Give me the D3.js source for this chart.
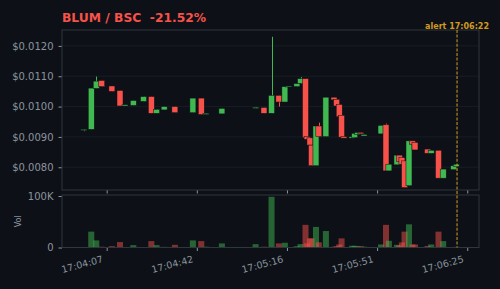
<!doctype html>
<html>
<head>
<meta charset="utf-8">
<title>BLUM / BSC</title>
<style>
body { margin:0; background:#0d1117; }
svg { display:block; }
text { font-family:"DejaVu Sans", sans-serif; }
</style>
</head>
<body>
<svg width="500" height="289" id="chart"></svg>
<script src="https://d3js.org/d3.v7.min.js"></script>
<script>
// trade candles, time = seconds after 17:04:00
var times  = [-1.3, 1.6, 3.5, 5.6, 9.5, 12.6, 14.5, 17.7, 21.6, 24.6, 26.6, 29.5, 33.6, 40.5, 43.7, 45.5, 51.6, 64.5, 67.7, 70.6, 73.4, 75.7, 77.1, 80.3, 81.7, 83.6, 84.2, 85.3, 85.9, 87.6, 88.7, 91.4, 94.5, 95.5, 96.5, 97.4, 98.3, 101.4, 102.4, 103.5, 104.8, 106.0, 112.5, 114.4, 115.5, 118.6, 119.5, 120.5, 121.5, 123.2, 124.5, 125.5, 130.3, 131.7, 134.5, 136.3, 140.3, 141.3];
var opens  = [0.00922, 0.00925, 0.01060, 0.01086, 0.01068, 0.01053, 0.01002, 0.01004, 0.01017, 0.01033, 0.00978, 0.00989, 0.01000, 0.00980, 0.01028, 0.00974, 0.00976, 0.00994, 0.00997, 0.00978, 0.01037, 0.01015, 0.01066, 0.01066, 0.01076, 0.01092, 0.00901, 0.00897, 0.00873, 0.00805, 0.00936, 0.00901, 0.01031, 0.01024, 0.01007, 0.00971, 0.00901, 0.00896, 0.00898, 0.00908, 0.00915, 0.00903, 0.00910, 0.00940, 0.00788, 0.00808, 0.00840, 0.00832, 0.00821, 0.00739, 0.00887, 0.00882, 0.00860, 0.00846, 0.00856, 0.00764, 0.00792, 0.00803];
var closes = [0.00925, 0.01061, 0.01084, 0.01066, 0.01050, 0.01002, 0.01006, 0.01020, 0.01033, 0.00978, 0.00991, 0.01000, 0.00980, 0.01028, 0.00974, 0.00978, 0.00994, 0.00998, 0.00978, 0.01037, 0.01015, 0.01066, 0.01068, 0.01076, 0.01092, 0.00897, 0.00892, 0.00873, 0.00805, 0.00936, 0.00901, 0.01031, 0.01022, 0.01002, 0.00967, 0.00899, 0.00896, 0.00901, 0.00912, 0.00915, 0.00910, 0.00908, 0.00938, 0.00788, 0.00810, 0.00840, 0.00819, 0.00810, 0.00733, 0.00887, 0.00876, 0.00857, 0.00846, 0.00856, 0.00764, 0.00794, 0.00805, 0.00810];
var highs  = [0.00925, 0.01061, 0.01099, 0.01086, 0.01068, 0.01053, 0.01006, 0.01020, 0.01033, 0.01033, 0.00991, 0.01000, 0.01000, 0.01028, 0.01028, 0.00978, 0.00994, 0.00998, 0.00997, 0.01230, 0.01037, 0.01066, 0.01068, 0.01076, 0.01097, 0.01092, 0.00901, 0.00897, 0.00873, 0.00936, 0.00947, 0.01031, 0.01031, 0.01024, 0.01007, 0.00971, 0.00901, 0.00901, 0.00912, 0.00915, 0.00915, 0.00908, 0.00938, 0.00944, 0.00810, 0.00840, 0.00840, 0.00832, 0.00821, 0.00887, 0.00887, 0.00882, 0.00860, 0.00856, 0.00856, 0.00794, 0.00805, 0.00810];
var lows   = [0.00919, 0.00925, 0.01060, 0.01066, 0.01050, 0.01002, 0.01002, 0.01004, 0.01017, 0.00978, 0.00978, 0.00989, 0.00980, 0.00980, 0.00974, 0.00974, 0.00976, 0.00994, 0.00978, 0.00978, 0.01000, 0.01015, 0.01066, 0.01066, 0.01076, 0.00897, 0.00892, 0.00873, 0.00805, 0.00805, 0.00901, 0.00901, 0.01022, 0.01002, 0.00967, 0.00899, 0.00896, 0.00896, 0.00898, 0.00908, 0.00910, 0.00903, 0.00910, 0.00788, 0.00788, 0.00808, 0.00819, 0.00810, 0.00733, 0.00739, 0.00876, 0.00857, 0.00846, 0.00846, 0.00764, 0.00764, 0.00792, 0.00803];
var volumes = [1000, 30800, 13800, 1500, 2600, 10500, 800, 4600, 1000, 12400, 4600, 1200, 5200, 13800, 12400, 1500, 7900, 6500, 1500, 98500, 7900, 9200, 1000, 2500, 6500, 44000, 8000, 17700, 17700, 40000, 10000, 32000, 1500, 2600, 5900, 17700, 1000, 3300, 3300, 2600, 2600, 1500, 5900, 44000, 13000, 5200, 4000, 9800, 30800, 45000, 5900, 5900, 3000, 5900, 30800, 12400, 1000, 1200];

var priceTicks = [0.0080, 0.0090, 0.0100, 0.0110, 0.0120];
var volTicks = [0, 100000];
var volLabels = ["0", "100K"];
var timeTicks = [7.5, 42, 76.5, 111, 145.5];
var timeLabels = ["17:04:07", "17:04:42", "17:05:16", "17:05:51", "17:06:25"];
var alertTime = 141.6;
var alertLabel = "alert 17:06:22";
var titleText = "BLUM / BSC  -21.52%";

var GREEN = "#3fb950", RED = "#f85149", GRID = "#1b2028", FRAME = "#30363d",
    TXT = "#8b949e", ALERT = "#d29922";

var svg = d3.select("#chart");
var left = 62, right = 479;
var mainTop = 30, mainBot = 190, volTop = 195, volBot = 247.5;
var candleW = 2.3; // seconds

var candles = times.map(function(t, i) {
  return {t: t, o: opens[i], c: closes[i], h: highs[i], l: lows[i], v: volumes[i]};
});

var x = d3.scaleLinear().domain([-9.6, 150]).range([left, right]);
var y = d3.scaleLinear().domain([0.00725, 0.012525]).range([mainBot, mainTop]);
var yv = d3.scaleLinear().domain([0, 102000]).range([volBot, volTop]);

// title
svg.append("text")
  .attr("x", 62).attr("y", 22)
  .attr("fill", RED)
  .style("font-size", "12.3px").style("font-weight", "bold")
  .style("white-space", "pre")
  .text(titleText);

// grid
svg.append("g").selectAll("line").data(priceTicks).enter().append("line")
  .attr("x1", left).attr("x2", right)
  .attr("y1", function(d) { return y(d); }).attr("y2", function(d) { return y(d); })
  .attr("stroke", GRID).attr("stroke-width", 0.8);

function styleAxis(g) {
  g.select(".domain").remove();
  g.selectAll(".tick line").attr("stroke", TXT);
  g.selectAll(".tick text").attr("fill", TXT).style("font-size", "10px")
    .style("font-family", "DejaVu Sans, sans-serif");
}

// y axes
svg.append("g").attr("transform", "translate(" + left + ",0)")
  .call(d3.axisLeft(y).tickValues(priceTicks).tickSize(3.5).tickPadding(5)
    .tickFormat(function(d) { return "$" + d3.format(".4f")(d); }))
  .call(styleAxis);

svg.append("g").attr("transform", "translate(" + left + ",0)")
  .call(d3.axisLeft(yv).tickValues(volTicks).tickSize(3.5).tickPadding(5)
    .tickFormat(function(d, i) { return volLabels[i]; }))
  .call(styleAxis);

// x ticks on main panel (no labels)
svg.append("g").attr("transform", "translate(0," + mainBot + ")")
  .call(d3.axisBottom(x).tickValues(timeTicks).tickSize(3.5).tickFormat(""))
  .call(styleAxis);

// x axis on volume panel
var xa = svg.append("g").attr("transform", "translate(0," + volBot + ")")
  .call(d3.axisBottom(x).tickValues(timeTicks).tickSize(3.5)
    .tickFormat(function(d, i) { return timeLabels[i]; }))
  .call(styleAxis);
xa.selectAll(".tick text")
  .attr("y", 0).attr("dy", 0)
  .style("text-anchor", "end")
  .style("font-size", "9.5px")
  .attr("transform", "translate(-3.5,14.5) rotate(-15)");

// Vol label
svg.append("text")
  .attr("transform", "translate(21," + ((volTop + volBot) / 2) + ") rotate(-90)")
  .attr("text-anchor", "middle")
  .attr("fill", TXT).style("font-size", "8px")
  .text("Vol");

// volume bars
svg.append("g").selectAll("rect").data(candles).enter().append("rect")
  .attr("x", function(d) { return x(d.t - candleW / 2); })
  .attr("width", function(d) { return x(d.t + candleW / 2) - x(d.t - candleW / 2); })
  .attr("y", function(d) { return yv(d.v); })
  .attr("height", function(d) { return yv(0) - yv(d.v); })
  .attr("fill", function(d) { return d.c >= d.o ? GREEN : RED; })
  .attr("fill-opacity", 0.5);

// candles
var cg = svg.append("g").selectAll("g").data(candles).enter().append("g");
cg.append("line")
  .attr("x1", function(d) { return Math.round(x(d.t)) + 0.5; })
  .attr("x2", function(d) { return Math.round(x(d.t)) + 0.5; })
  .attr("y1", function(d) { return y(d.h); }).attr("y2", function(d) { return y(d.l); })
  .attr("stroke", function(d) { return d.c >= d.o ? GREEN : RED; })
  .attr("stroke-width", 1);
cg.append("rect")
  .attr("x", function(d) { return x(d.t - candleW / 2); })
  .attr("width", function(d) { return x(d.t + candleW / 2) - x(d.t - candleW / 2); })
  .attr("y", function(d) { return y(Math.max(d.o, d.c)); })
  .attr("height", function(d) { return Math.max(1, Math.abs(y(d.o) - y(d.c))); })
  .attr("fill", function(d) { return d.c >= d.o ? GREEN : RED; })
  .attr("stroke", "#0d1117").attr("stroke-width", 0.5);

// frames
svg.append("rect").attr("x", left).attr("y", mainTop)
  .attr("width", right - left).attr("height", mainBot - mainTop)
  .attr("fill", "none").attr("stroke", FRAME);
svg.append("rect").attr("x", left).attr("y", volTop)
  .attr("width", right - left).attr("height", volBot - volTop)
  .attr("fill", "none").attr("stroke", FRAME);

// alert marker
svg.append("line")
  .attr("x1", x(alertTime)).attr("x2", x(alertTime))
  .attr("y1", mainTop).attr("y2", volBot)
  .attr("stroke", ALERT).attr("stroke-width", 1.2)
  .attr("stroke-dasharray", "3,1.6").attr("stroke-opacity", 0.85);
svg.append("text")
  .attr("x", x(alertTime)).attr("y", 29)
  .attr("text-anchor", "middle")
  .attr("fill", ALERT).style("font-size", "8px").style("font-weight", "bold")
  .text(alertLabel);
</script>
</body>
</html>
